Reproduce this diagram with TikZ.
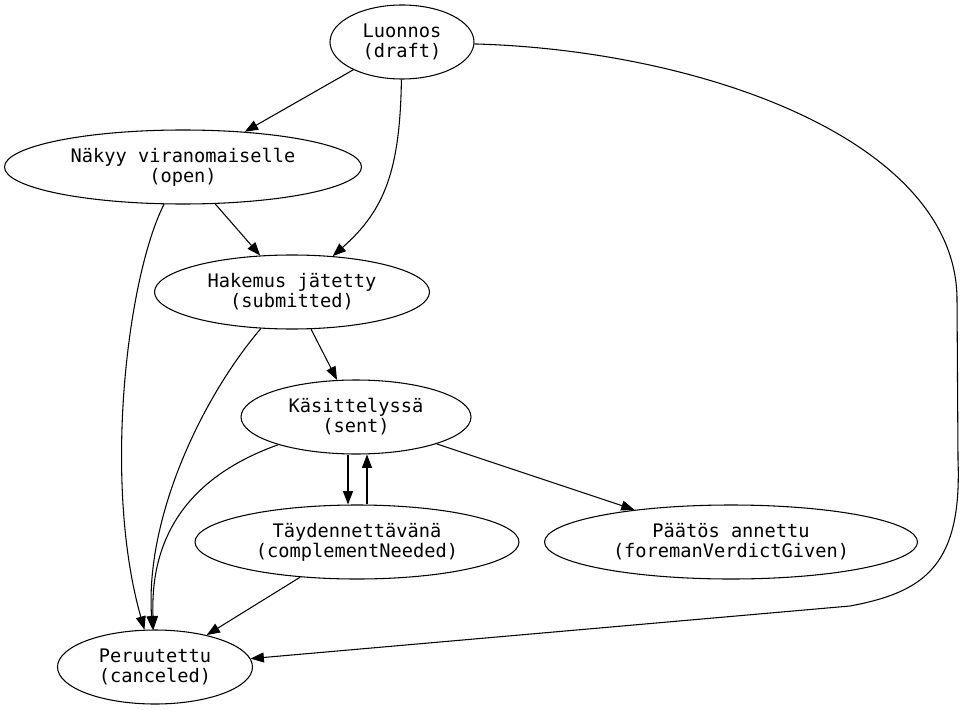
\documentclass[tikz,border=0pt]{standalone}
\usepackage{fontspec}
\setmonofont{DejaVu Sans Mono}
\usepackage{tikz}
\usetikzlibrary{shapes.geometric, arrows.meta, calc}
\tikzset{
	statebox/.style={ellipse, draw, line width=0.8pt, inner sep=0pt,
		minimum height=55.5pt, align=center,
		font=\ttfamily\fontsize{14pt}{15pt}\selectfont}
}
\tikzset{
	flow/.style={line width=0.8pt, -{Triangle[length=10pt, width=7.5pt]}}
}

\begin{document}
\begin{tikzpicture}[x=0.75pt, y=-0.75pt]
      \useasboundingbox (0,0) rectangle (969,709);

      \node[statebox, minimum width=108pt] (draft) at (402,42) {Luonnos\\(draft)};
      \node[statebox, minimum width=267.75pt] (open) at (183,167) {Näkyy viranomaiselle\\(open)};
      \node[statebox, minimum width=206.25pt] (submitted) at (292,292) {Hakemus jätetty\\(submitted)};
      \node[statebox, minimum width=172.5pt] (sent) at (356,417) {Käsittelyssä\\(sent)};
      \node[statebox, minimum width=243pt] (compl) at (357,542) {Täydennettävänä\\(complementNeeded)};
      \node[statebox, minimum width=279.75pt] (verdict) at (731,542) {Päätös annettu\\(foremanVerdictGiven)};
      \node[statebox, minimum width=146.25pt] (canceled) at (155,667) {Peruutettu\\(canceled)};

      \draw[flow] (draft) -- (open);
      \draw[flow] (draft) .. controls (400,170) and (385,210) .. (submitted);
      \draw[flow] (open) -- (submitted);
      \draw[flow] (submitted) -- (sent);
      \draw[flow] (sent) -- (verdict);

      % the pair between sent and complementNeeded
      \draw[flow] ([xshift=-6pt]sent.south) -- ([xshift=-6.75pt]compl.north);
      \draw[flow] ([xshift=7.5pt]compl.north) -- ([xshift=8.25pt]sent.south);

      % everything can end up canceled
      \draw[flow] (open) .. controls (128,275) and (102,480) .. (canceled);
      \draw[flow] (submitted) .. controls (200,400) and (145,520) .. (canceled);
      \draw[flow] (sent) .. controls (185,478) and (150,540) .. (canceled);
      \draw[flow] (compl) -- (canceled);
      \draw[flow] (draft) .. controls (700,50) and (957,140) .. (957,300)
            -- (958,460) .. controls (962,565) and (925,592) .. (850,606) -- (canceled);
    \end{tikzpicture}
\end{document}
